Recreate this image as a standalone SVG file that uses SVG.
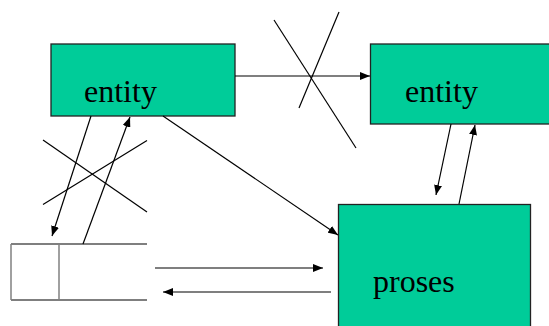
<svg xmlns="http://www.w3.org/2000/svg" width="549" height="326" viewBox="0 0 549 326">
<defs>
<style>
.node{fill:#00CC99;stroke:#222;stroke-width:1.3}
.lbl{font-family:"Liberation Serif","Times New Roman",serif;font-size:32px;fill:#000}
.c{stroke:#000;stroke-width:1.2;fill:none}
.a{marker-end:url(#ah)}
</style>
<marker id="ah" viewBox="0 0 10 8" refX="10" refY="4" markerWidth="10" markerHeight="8" markerUnits="userSpaceOnUse" orient="auto">
<path d="M0,0 L10,4 L0,8 z" fill="#000"/>
</marker>
</defs>
<rect width="549" height="326" fill="#fff"/>
<g id="entity1">
<rect class="node" x="51" y="44" width="184" height="72"/>
<text class="lbl" x="84" y="102">entity</text>
</g>
<g id="entity2">
<rect class="node" x="370.5" y="44" width="190" height="80"/>
<text class="lbl" x="405" y="102">entity</text>
</g>
<g id="proses">
<rect class="node" x="338.5" y="204.5" width="192" height="130"/>
<text class="lbl" x="373" y="292">proses</text>
</g>
<g id="store">
<line x1="11" y1="244" x2="147" y2="244" stroke="#000" stroke-width="1.2"/>
<line x1="11" y1="300" x2="147" y2="300" stroke="#000" stroke-width="1.2"/>
<line x1="11" y1="244" x2="11" y2="300" stroke="#808080" stroke-width="1.5"/>
<line x1="59" y1="244" x2="59" y2="300" stroke="#808080" stroke-width="1.5"/>
</g>
<g id="connectors">
<line class="c a" x1="235" y1="76" x2="370" y2="76"/>
<line class="c" x1="339" y1="12" x2="299" y2="108"/>
<line class="c" x1="274" y1="20" x2="356" y2="148"/>
<line class="c a" x1="91" y1="116" x2="52" y2="236"/>
<line class="c a" x1="83" y1="244" x2="130" y2="117"/>
<line class="c" x1="43" y1="140" x2="147" y2="212"/>
<line class="c" x1="147" y1="140.5" x2="43" y2="204.5"/>
<line class="c a" x1="163" y1="116" x2="338" y2="235"/>
<line class="c a" x1="155" y1="268" x2="323" y2="268"/>
<line class="c a" x1="331" y1="292" x2="163" y2="292"/>
<line class="c a" x1="451" y1="124" x2="436" y2="195"/>
<line class="c a" x1="459" y1="204" x2="475" y2="125"/>
</g>
</svg>
